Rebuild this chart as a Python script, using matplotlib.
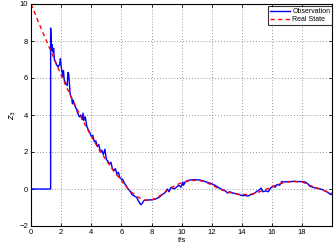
import matplotlib
matplotlib.use("Agg")
import matplotlib.pyplot as plt

plt.rcParams['font.family'] = ['Liberation Sans', 'DejaVu Sans']

# real state, read at 0.5 s steps
t_real = [0, 0.5, 1, 1.5, 2, 2.5, 3, 3.5, 4, 4.5, 5, 5.5, 6, 6.5, 7, 7.5, 8, 8.5,
          9, 9.5, 10, 10.5, 11, 11.5, 12, 12.5, 13, 13.5, 14, 14.5, 15, 15.5, 16,
          16.5, 17, 17.5, 18, 18.5, 19, 19.5, 20]
z_real = [10, 9.0, 8.05, 7.1, 6.15, 5.25, 4.4, 3.6, 2.85, 2.15, 1.55, 0.95, 0.45,
          -0.05, -0.4, -0.6, -0.6, -0.4, -0.1, 0.15, 0.35, 0.45, 0.48, 0.4, 0.22,
          0.0, -0.15, -0.25, -0.3, -0.3, -0.2, -0.05, 0.12, 0.28, 0.38, 0.4, 0.38,
          0.2, 0.05, -0.1, -0.25]

# observation (noisy)
t_obs = [0, 1.3, 1.3, 1.35, 1.4, 1.45, 1.5, 1.55, 1.6, 1.7, 1.8, 1.9, 1.95, 2.0,
         2.1, 2.15, 2.2, 2.3, 2.4, 2.45, 2.5, 2.6, 2.7, 2.75, 2.8, 2.9, 3.0, 3.1,
         3.2, 3.3, 3.4, 3.45, 3.5, 3.6, 3.7, 3.8, 3.9, 4.0, 4.1, 4.2, 4.3, 4.4,
         4.5, 4.6, 4.7, 4.8, 4.9, 5.0, 5.1, 5.2, 5.3, 5.4, 5.5, 5.6, 5.7, 5.8,
         5.9, 6.0, 6.1, 6.2, 6.3, 6.4, 6.5, 6.6, 6.7, 6.8, 6.9, 7.0, 7.1, 7.2,
         7.3, 7.4, 7.5, 7.75, 8.0, 8.25, 8.5, 8.7, 8.9, 9.05, 9.15, 9.3, 9.5,
         9.65, 9.8, 9.95, 10.07, 10.12, 10.25, 10.5, 10.75, 11.0, 11.25, 11.5,
         11.75, 12.0, 12.25, 12.5, 12.75, 12.9, 13.05, 13.2, 13.4, 13.6, 13.8,
         14.0, 14.2, 14.4, 14.6, 14.8, 15.0, 15.15, 15.27, 15.4, 15.6, 15.75,
         15.9, 16.05, 16.2, 16.35, 16.5, 16.65, 16.8, 17.0, 17.25, 17.5, 17.75,
         18.0, 18.2, 18.35, 18.5, 18.7, 18.9, 19.1, 19.3, 19.5, 19.7, 19.85, 20.0]
z_obs = [0, 0, 8.7, 7.5, 7.8, 7.4, 7.6, 7.0, 6.9, 6.7, 6.6, 6.75, 7.05, 6.6,
         6.1, 6.4, 5.9, 5.7, 5.6, 6.3, 6.2, 5.1, 4.9, 4.6, 4.8, 4.5, 4.35, 4.1,
         3.9, 4.0, 3.75, 4.1, 3.7, 3.9, 3.4, 3.2, 3.05, 2.85, 2.9, 2.55, 2.6, 2.3,
         2.4, 2.0, 2.1, 1.85, 2.15, 1.6, 1.5, 1.35, 1.45, 1.1, 1.0, 1.1, 0.8, 0.9,
         0.6, 0.55, 0.5, 0.3, 0.2, 0.05, -0.05, -0.15, -0.3, -0.35, -0.4, -0.45,
         -0.6, -0.75, -0.85, -0.75, -0.62, -0.6, -0.58, -0.55, -0.45, -0.3, -0.2,
         0.0, -0.15, 0.1, 0.0, 0.1, 0.2, 0.1, 0.38, 0.2, 0.4, 0.48, 0.5, 0.5,
         0.48, 0.42, 0.35, 0.28, 0.18, 0.05, -0.05, -0.1, -0.22, -0.15, -0.22,
         -0.25, -0.3, -0.35, -0.35, -0.38, -0.3, -0.25, -0.12, -0.05, 0.05, -0.15,
         -0.1, -0.15, 0.05, 0.15, 0.1, 0.25, 0.2, 0.4, 0.38, 0.4, 0.4, 0.42, 0.4,
         0.4, 0.38, 0.3, 0.15, 0.1, 0.05, 0.02, -0.02, -0.1, -0.18, -0.28, -0.3]

x_ticks = [0, 2, 4, 6, 8, 10, 12, 14, 16, 18]
y_ticks = [-2, 0, 2, 4, 6, 8, 10]

fig = plt.figure(figsize=(3.34, 2.5), dpi=100)
ax = fig.add_axes([0.093, 0.096, 0.902, 0.888])

ax.plot(t_obs, z_obs, color='blue', lw=1.0, label='Observation')
ax.plot(t_real, z_real, color='red', lw=1.0, ls=(0, (3, 2.5)), label='Real State')

ax.set_xlim(0, 20)
ax.set_ylim(-2, 10)
ax.set_xticks(x_ticks)
ax.set_yticks(y_ticks)
ax.tick_params(direction='in', length=2.5, width=0.6, labelsize=5.5,
               top=True, right=True, pad=2)
ax.grid(True, ls=(0, (1, 2.5)), color='0.45', lw=0.6)
for s in ax.spines.values():
    s.set_linewidth(0.8)

ax.set_xlabel('t/s', fontsize=5.5, labelpad=1)
ax.set_ylabel('$z_3$', fontsize=6, labelpad=1)

leg = ax.legend(loc='upper right', bbox_to_anchor=(1.0, 0.99), fontsize=5.0,
                frameon=True, fancybox=False, edgecolor='black',
                handlelength=3.0, borderpad=0.25, labelspacing=0.15,
                handletextpad=0.3, borderaxespad=0.0)
leg.get_frame().set_linewidth(0.8)

fig.savefig('out.png', dpi=100)
